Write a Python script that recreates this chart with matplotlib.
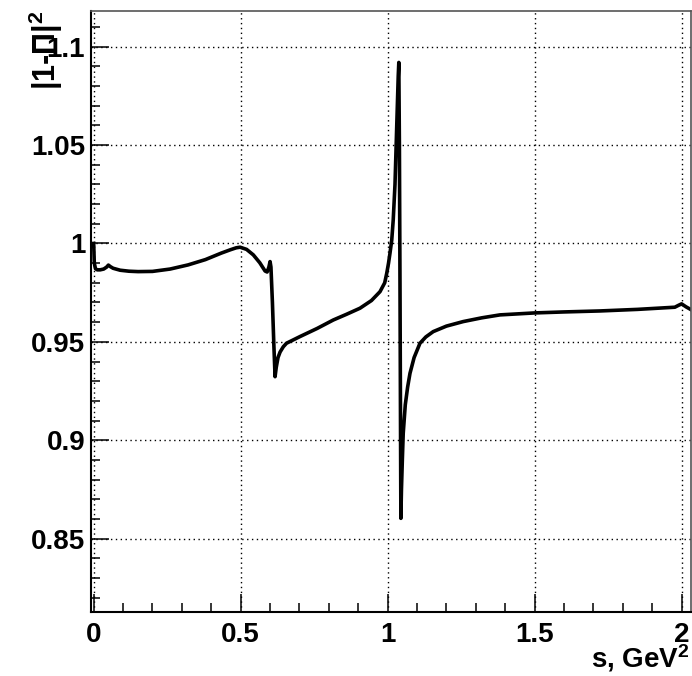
# -*- coding: utf-8 -*-
"""
|1-Pi|^2 versus s (GeV^2), drawn in the ROOT look:
bold Helvetica-like labels, ticks inside, dotted grid at major ticks.
"""
import matplotlib
matplotlib.use("Agg")
import matplotlib.pyplot as plt
from matplotlib.ticker import MultipleLocator

# curve
s_vals = [0.000, 0.002, 0.006, 0.012, 0.022, 0.034, 0.044, 0.050, 0.057, 0.066,
          0.090, 0.120, 0.151, 0.200, 0.260, 0.321, 0.380, 0.434, 0.465, 0.485,
          0.498, 0.520, 0.543, 0.565, 0.583, 0.590, 0.596, 0.600, 0.603, 0.608,
          0.613, 0.617, 0.621, 0.627, 0.634, 0.645, 0.656, 0.702, 0.760, 0.815,
          0.860, 0.906, 0.945, 0.974, 0.990, 0.997, 1.003, 1.008, 1.014, 1.019,
          1.025, 1.031, 1.036, 1.038, 1.040, 1.042, 1.044, 1.045, 1.047, 1.050,
          1.053, 1.060, 1.068, 1.076, 1.090, 1.110, 1.130, 1.155, 1.200, 1.257,
          1.320, 1.382, 1.500, 1.600, 1.722, 1.850, 1.977, 1.990, 2.000, 2.015,
          2.034]
pi_vals = [1.0000, 0.9900, 0.9872, 0.9866, 0.9866, 0.9870, 0.9880, 0.9890, 0.9882, 0.9874,
           0.9864, 0.9859, 0.9857, 0.9858, 0.9870, 0.9891, 0.9918, 0.9951, 0.9968, 0.9978,
           0.9981, 0.9970, 0.9942, 0.9902, 0.9860, 0.9855, 0.9880, 0.9908, 0.9880, 0.9700,
           0.9480, 0.9323, 0.9370, 0.9420, 0.9448, 0.9475, 0.9493, 0.9527, 0.9568, 0.9611,
           0.9640, 0.9671, 0.9710, 0.9755, 0.9800, 0.9849, 0.9900, 0.9951, 1.0018, 1.0120,
           1.0300, 1.0600, 1.0850, 1.0920, 1.0500, 0.9800, 0.9000, 0.8603, 0.8750, 0.8900,
           0.9035, 0.9180, 0.9270, 0.9340, 0.9420, 0.9493, 0.9525, 0.9552, 0.9580, 0.9603,
           0.9622, 0.9637, 0.9647, 0.9652, 0.9657, 0.9665, 0.9676, 0.9686, 0.9693, 0.9678,
           0.9662]

x_ticks = [0, 0.5, 1, 1.5, 2]
x_tick_labels = ["0", "0.5", "1", "1.5", "2"]
y_ticks = [0.85, 0.9, 0.95, 1.0, 1.05, 1.1]
y_tick_labels = ["0.85", "0.9", "0.95", "1", "1.05", "1.1"]

plt.rcParams.update({
    "font.family": ["Liberation Sans", "DejaVu Sans"],
    "font.weight": "bold",
    "mathtext.fontset": "custom",
    "mathtext.rm": "Liberation Sans:bold",
    "mathtext.bf": "Liberation Sans:bold",
    "mathtext.it": "Liberation Sans:bold",
})

W, H = 692, 676
dpi = 100
fig = plt.figure(figsize=(W / dpi, H / dpi), dpi=dpi)
ax = fig.add_axes([90.7 / W, 1 - 612 / H, 600 / W, (612 - 10.5) / H])

ax.plot(s_vals, pi_vals, color="black", linewidth=2.6, solid_joinstyle="round")

ax.set_xlim(-0.0102, 2.031)
ax.set_ylim(0.8127, 1.1184)

ax.set_xticks(x_ticks)
ax.set_xticklabels(x_tick_labels)
ax.set_yticks(y_ticks)
ax.set_yticklabels(y_tick_labels)
ax.xaxis.set_minor_locator(MultipleLocator(0.1))
ax.yaxis.set_minor_locator(MultipleLocator(0.01))

ax.tick_params(which="both", direction="in", top=False, right=False, width=1.1, colors="black")
ax.tick_params(which="major", length=13, labelsize=20)
ax.tick_params(axis="x", which="major", pad=7)
ax.tick_params(axis="y", which="major", pad=4)
ax.tick_params(which="minor", length=6.5)

# dotted grid at the major ticks (ROOT style)
ax.grid(True, which="major", color="black", linestyle=(0, (1, 2.5)), linewidth=1.0)

for side in ("left", "bottom"):
    ax.spines[side].set_linewidth(1.5)
    ax.spines[side].set_color("black")
for side in ("top", "right"):
    ax.spines[side].set_linewidth(1.2)
    ax.spines[side].set_color("#555555")

fig.text(46 / W, 1 - 10 / H, r"$|1\text{-}\Pi|^2$", rotation=90, ha="center", va="top",
         fontsize=22)
fig.text(690 / W, 1 - 668 / H, r"s, GeV$^2$", ha="right", va="baseline", fontsize=20)

fig.savefig("out.png", dpi=dpi)
